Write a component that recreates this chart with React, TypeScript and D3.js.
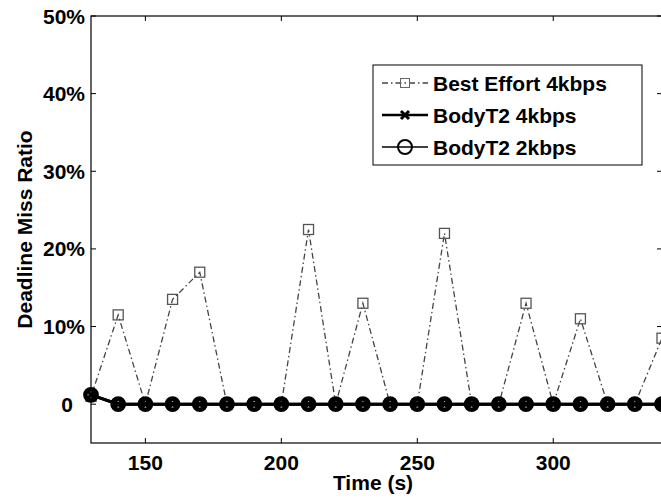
import React from "react";
import * as d3 from "d3";

// time axis (s), one sample every 10 s
const times = [130, 140, 150, 160, 170, 180, 190, 200, 210, 220, 230, 240, 250, 260, 270, 280, 290, 300, 310, 320, 330, 340];

// deadline miss ratio per series
const bestEffort4k = [0.01, 0.115, 0, 0.135, 0.17, 0, 0, 0, 0.225, 0, 0.13, 0, 0, 0.22, 0, 0, 0.13, 0, 0.11, 0, 0, 0.085];
const bodyT2_4k = [0.012, 0, 0, 0, 0, 0, 0, 0, 0, 0, 0, 0, 0, 0, 0, 0, 0, 0, 0, 0, 0, 0];
const bodyT2_2k = [0.012, 0, 0, 0, 0, 0, 0, 0, 0, 0, 0, 0, 0, 0, 0, 0, 0, 0, 0, 0, 0, 0];

const legendNames = ["Best Effort 4kbps", "BodyT2 4kbps", "BodyT2 2kbps"];

const xTickValues = [150, 200, 250, 300];
const yTickValues = [0, 0.1, 0.2, 0.3, 0.4, 0.5];
const yTickLabels = ["0", "10%", "20%", "30%", "40%", "50%"];

const W = 661, H = 499;
const margin = {left: 91, top: 16, right: -1, bottom: 56};
const font = "'Liberation Sans', Arial, Helvetica, sans-serif";

function Square({x, y, s, stroke, sw}) {
    return <rect x={x - s / 2} y={y - s / 2} width={s} height={s} fill="none" stroke={stroke} strokeWidth={sw}/>
}

function Cross({x, y, s}) {
    return <path d={`M${x - s},${y - s}L${x + s},${y + s}M${x - s},${y + s}L${x + s},${y - s}`} stroke="#000" strokeWidth={3}/>
}

function Ring({x, y}) {
    return <circle cx={x} cy={y} r={5.6} fill="none" stroke="#000" strokeWidth={4.6}/>
}

export default function App() {
    const x = d3.scaleLinear().domain([130, 340]).range([margin.left, W - margin.right]);
    const y = d3.scaleLinear().domain([-0.05, 0.5]).range([H - margin.bottom, margin.top]);
    const x0 = x.range()[0], x1 = x.range()[1];
    const yb = y.range()[0], yt = y.range()[1];

    const line = d3.line<number>()
        .x((d, i) => x(times[i]))
        .y(d => y(d));

    const beColor = "#444";

    // legend placement
    const lg = {x: 373, y: 65, w: 269, h: 100, row: 32, sx0: 382, sx1: 428, tx: 433};
    const rowY = (i) => lg.y + 18 + i * lg.row;

    return (
        <div style={{position: "absolute", left: 0, top: 0}}>
            <svg width={W} height={H} style={{display: "block", background: "#fff"}} fontFamily={font} fontWeight="bold">
                <defs>
                    <clipPath id="plot">
                        <rect x={x0 - 10} y={yt - 10} width={x1 - x0 + 20} height={yb - yt + 20}/>
                    </clipPath>
                </defs>

                {/* axes box */}
                <rect x={x0} y={yt} width={x1 - x0} height={yb - yt} fill="none" stroke="#000" strokeWidth={1.2}/>

                {/* y ticks */}
                {yTickValues.map((d, i) => (
                    <g key={d} transform={`translate(0,${y(d)})`}>
                        <line x1={x0} x2={x0 + 5} stroke="#000"/>
                        <line x1={x1} x2={x1 - 5} stroke="#000"/>
                        <text x={x0 - 6} dx={d === 0 ? -12 : 0} dy="0.36em" textAnchor="end" fontSize={21}>{yTickLabels[i]}</text>
                    </g>
                ))}

                {/* x ticks */}
                {xTickValues.map(d => (
                    <g key={d} transform={`translate(${x(d)},0)`}>
                        <line y1={yb} y2={yb - 5} stroke="#000"/>
                        <line y1={yt} y2={yt + 5} stroke="#000"/>
                        <text y={yb + 27} textAnchor="middle" fontSize={21}>{d}</text>
                    </g>
                ))}

                <text x={(x0 + 663) / 2 - 4} y={H - 9} textAnchor="middle" fontSize={21}>Time (s)</text>
                <text transform={`translate(32,${(yt + yb) / 2}) rotate(-90)`} textAnchor="middle" fontSize={21}>Deadline Miss Ratio</text>

                <g clipPath="url(#plot)">
                    {/* Best Effort 4kbps */}
                    <path d={line(bestEffort4k)} fill="none" stroke={beColor} strokeWidth={1.3} strokeDasharray="6 3 1.5 3"/>
                    {bestEffort4k.map((d, i) => (
                        <Square key={i} x={x(times[i])} y={y(d)} s={10} stroke="#555" sw={1.3}/>
                    ))}

                    {/* BodyT2 2kbps */}
                    <path d={line(bodyT2_2k)} fill="none" stroke="#000" strokeWidth={3}/>
                    {bodyT2_2k.map((d, i) => <Ring key={i} x={x(times[i])} y={y(d)}/>)}

                    {/* BodyT2 4kbps */}
                    <path d={line(bodyT2_4k)} fill="none" stroke="#000" strokeWidth={3}/>
                    {bodyT2_4k.map((d, i) => <Cross key={i} x={x(times[i])} y={y(d)} s={4}/>)}
                </g>

                {/* legend */}
                <rect x={lg.x} y={lg.y} width={lg.w} height={lg.h} fill="#fff" stroke="#000" strokeWidth={1}/>
                {legendNames.map((name, i) => {
                    const cy = rowY(i), cx = (lg.sx0 + lg.sx1) / 2;
                    return (
                        <g key={name}>
                            {i === 0 ? (
                                <>
                                    <line x1={lg.sx0} x2={lg.sx1} y1={cy} y2={cy} stroke={beColor} strokeWidth={1.3} strokeDasharray="6 3 1.5 3"/>
                                    <Square x={cx} y={cy} s={9} stroke="#666" sw={1}/>
                                </>
                            ) : (
                                <line x1={lg.sx0} x2={lg.sx1} y1={cy} y2={cy} stroke="#000" strokeWidth={i === 1 ? 2.5 : 1.5}/>
                            )}
                            {i === 1 && <Cross x={cx} y={cy} s={4}/>}
                            {i === 2 && <circle cx={cx} cy={cy} r={7} fill="none" stroke="#000" strokeWidth={2}/>}
                            <text x={lg.tx} y={cy} dy="0.36em" fontSize={21}>{name}</text>
                        </g>
                    )
                })}
            </svg>
        </div>
    );
}
